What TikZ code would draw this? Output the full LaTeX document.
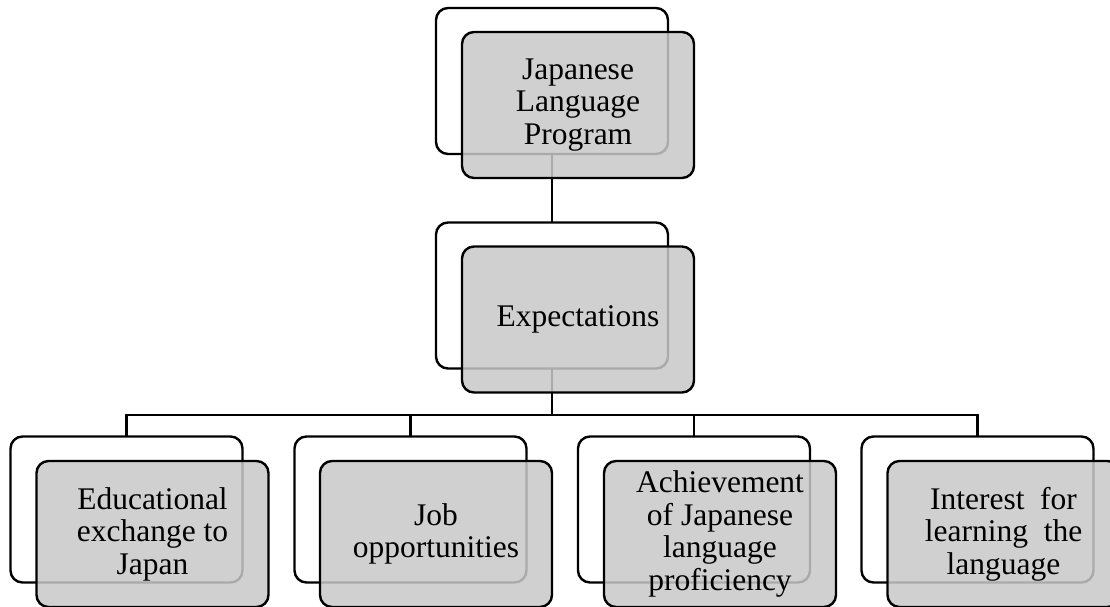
\documentclass[tikz,border=0pt]{standalone}
\usepackage{fontspec}
\setmainfont{Liberation Serif}
\definecolor{boxgray}{RGB}{200,200,200}
\begin{document}
\begin{tikzpicture}[x=1pt,y=-1pt,
  line width=2.4pt,
  backbox/.style={draw=black,fill=white,rounded corners=12pt,minimum width=232pt,minimum height=146pt,inner sep=0pt,outer sep=0pt},
  frontbox/.style={draw=black,fill=boxgray,fill opacity=0.85,text opacity=1,rounded corners=12pt,minimum width=232pt,minimum height=146pt,inner sep=0pt,outer sep=0pt,align=center,font=\fontsize{31.5pt}{32.5pt}\selectfont},
  link/.style={draw=black,line width=2.4pt}]
\useasboundingbox (0,0) rectangle (1110,607);
\clip (0,0) rectangle (1110,607);
% back boxes
\node[backbox] (b0) at (552,81) {};
\node[backbox] (b1) at (552,295.5) {};
\node[backbox] (b2) at (126.5,509.5) {};
\node[backbox] (b3) at (410.5,509.5) {};
\node[backbox] (b4) at (694,509.5) {};
\node[backbox] (b5) at (977.5,509.5) {};
% connectors
\coordinate (bus) at (552,415);
\draw[link] (b0.south) -- (b1.north);
\draw[link] (b1.south) -- (bus);
\draw[link] (bus) -| (b2.north);
\draw[link] (bus) -| (b3.north);
\draw[link] (bus) -| (b4.north);
\draw[link] (bus) -| (b5.north);
% front boxes
\node[frontbox] (f0) at (578,105) {Japanese\\Language\\Program};
\node[frontbox] (f1) at (578,319.5) {Expectations};
\node[frontbox] (f2) at (152.5,534) {Educational\\exchange to\\Japan};
\node[frontbox] (f3) at (436,534) {Job\\opportunities};
\node[frontbox] (f4) at (720,534) {Achievement\\of Japanese\\language\\proficiency};
\node[frontbox] (f5) at (1003.5,534) {Interest\ \ for\\learning\ \ the\\language};
\end{tikzpicture}
\end{document}
